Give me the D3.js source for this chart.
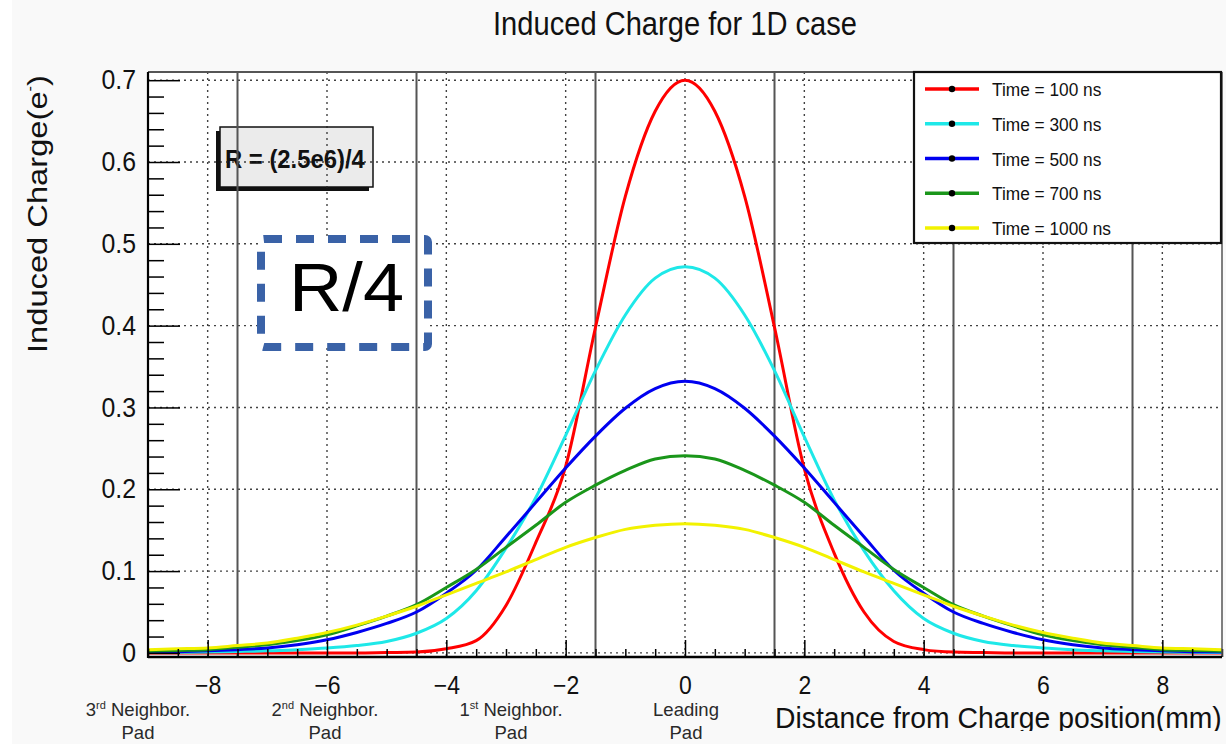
<!DOCTYPE html>
<html>
<head>
<meta charset="utf-8">
<script src="https://cdn.jsdelivr.net/npm/d3@7"></script>
<style>
  body { margin: 0; background: #fff; }
  text { font-family: "Liberation Sans", Arial, Helvetica, sans-serif; }
</style>
</head>
<body>
<svg id="chart" width="1226" height="744"></svg>
<script>
var xs = [-9, -8.5, -8, -7.5, -7, -6.5, -6, -5.5, -5, -4.5, -4, -3.5, -3, -2.5, -2, -1.5, -1, -0.5,
          0, 0.5, 1, 1.5, 2, 2.5, 3, 3.5, 4, 4.5, 5, 5.5, 6, 6.5, 7, 7.5, 8, 8.5, 9];

var t100  = [0, 0, 0, 0, 0, 0, 0, 0, 0.0005, 0.001, 0.005, 0.015, 0.058, 0.135, 0.228, 0.398, 0.558, 0.662,
             0.700, 0.662, 0.558, 0.398, 0.225, 0.122, 0.050, 0.014, 0.004, 0.001, 0.0005, 0, 0, 0, 0, 0, 0, 0, 0];
var t300  = [0.0005, 0.0008, 0.0012, 0.0018, 0.0025, 0.004, 0.006, 0.009, 0.014, 0.024, 0.042, 0.076, 0.128, 0.19, 0.266, 0.345, 0.413, 0.458,
             0.472, 0.458, 0.413, 0.345, 0.264, 0.187, 0.125, 0.076, 0.042, 0.024, 0.014, 0.009, 0.006, 0.004, 0.0025, 0.0018, 0.0012, 0.0008, 0.0005];
var t500  = [0.001, 0.0015, 0.0025, 0.004, 0.006, 0.010, 0.016, 0.025, 0.036, 0.050, 0.073, 0.101, 0.142, 0.184, 0.226, 0.265, 0.299, 0.323,
             0.332, 0.323, 0.299, 0.265, 0.226, 0.184, 0.142, 0.101, 0.073, 0.050, 0.036, 0.025, 0.016, 0.010, 0.006, 0.004, 0.0025, 0.0015, 0.001];
var t700  = [0.002, 0.003, 0.004, 0.007, 0.010, 0.015, 0.022, 0.033, 0.045, 0.059, 0.080, 0.102, 0.129, 0.156, 0.184, 0.205, 0.223, 0.237,
             0.241, 0.237, 0.223, 0.205, 0.184, 0.156, 0.129, 0.102, 0.080, 0.059, 0.045, 0.033, 0.022, 0.015, 0.010, 0.007, 0.004, 0.003, 0.002];
var t1000 = [0.004, 0.005, 0.006, 0.009, 0.012, 0.018, 0.025, 0.034, 0.045, 0.057, 0.071, 0.085, 0.099, 0.114, 0.129, 0.141, 0.151, 0.156,
             0.158, 0.156, 0.151, 0.141, 0.129, 0.114, 0.099, 0.085, 0.071, 0.057, 0.045, 0.034, 0.025, 0.018, 0.012, 0.009, 0.006, 0.005, 0.004];

var seriesNames  = ["Time = 100 ns", "Time = 300 ns", "Time = 500 ns", "Time = 700 ns", "Time = 1000 ns"];
var seriesValues = [t100, t300, t500, t700, t1000];
var seriesColors = ["#ff0000", "#1ee8e8", "#0000f0", "#1a961a", "#f2f200"];

var xMajor = [-8, -6, -4, -2, 0, 2, 4, 6, 8];
var xMinor = [-9, -8.5, -7.5, -7, -6.5, -5.5, -5, -4.5, -3.5, -3, -2.5, -1.5, -1, -0.5, 0.5, 1, 1.5, 2.5, 3, 3.5, 4.5, 5, 5.5, 6.5, 7, 7.5, 8.5, 9];
var yMajor = [0, 0.1, 0.2, 0.3, 0.4, 0.5, 0.6, 0.7];
var yMinor = [0.02, 0.04, 0.06, 0.08, 0.12, 0.14, 0.16, 0.18, 0.22, 0.24, 0.26, 0.28, 0.32, 0.34, 0.36, 0.38,
              0.42, 0.44, 0.46, 0.48, 0.52, 0.54, 0.56, 0.58, 0.62, 0.64, 0.66, 0.68];
var padEdges = [-7.5, -4.5, -1.5, 1.5, 4.5, 7.5];

var svg = d3.select("#chart");

// frame of the plot
var pLeft = 148, pRight = 1222, pTop = 72, pBottom = 657;
var x = d3.scaleLinear().domain([-9, 9]).range([pLeft, pRight]);
var y = d3.scaleLinear().domain([-0.005, 0.71]).range([pBottom, pTop]);

// fits a text to a measured width by squeezing it horizontally
function fitWidth(t, w) {
    var bw = t.node().getBBox().width;
    t.attr("transform", "scale(" + (w / bw) + ",1)");
}

// background
svg.append("rect").attr("x", 12).attr("y", 0).attr("width", 1214).attr("height", 744).attr("fill", "#f9f9f9");
svg.append("rect").attr("x", pLeft).attr("y", pTop).attr("width", pRight - pLeft).attr("height", pBottom - pTop).attr("fill", "#fff");

// R = (2.5e6)/4 box (sits under the grid)
svg.append("rect").attr("x", 216).attr("y", 131).attr("width", 153).attr("height", 60).attr("fill", "#111");
svg.append("rect").attr("x", 220).attr("y", 127).attr("width", 153).attr("height", 60)
    .attr("fill", "#ebebeb").attr("stroke", "#111").attr("stroke-width", 1.5);
var rg = svg.append("g").attr("transform", "translate(225,168)");
var rt = rg.append("text").attr("font-size", 25).attr("font-weight", "bold").attr("fill", "#111").text("R = (2.5e6)/4");
fitWidth(rt, 140);

// dotted grid
var grid = svg.append("g").attr("stroke", "#222").attr("stroke-width", 1.4)
    .attr("stroke-dasharray", "2,4").attr("opacity", 0.85);
grid.selectAll(".gx").data(xMajor).enter().append("line")
    .attr("x1", d => x(d)).attr("x2", d => x(d)).attr("y1", pTop).attr("y2", pBottom);
grid.selectAll(".gy").data(yMajor).enter().append("line")
    .attr("x1", pLeft).attr("x2", pRight).attr("y1", d => y(d)).attr("y2", d => y(d));

// R/4 annotation
svg.append("rect").attr("x", 261).attr("y", 239).attr("width", 167).attr("height", 108).attr("rx", 3)
    .attr("fill", "#fff").attr("stroke", "#3a62a7").attr("stroke-width", 8).attr("stroke-dasharray", "18,14");
var r4g = svg.append("g").attr("transform", "translate(289,311)");
var r4 = r4g.append("text").attr("font-size", 68).attr("fill", "#000").text("R/4");
fitWidth(r4, 115);

// pad boundaries
svg.append("g").selectAll("line").data(padEdges).enter().append("line")
    .attr("x1", d => x(d)).attr("x2", d => x(d)).attr("y1", pTop).attr("y2", pBottom)
    .attr("stroke", "#555").attr("stroke-width", 2);

// curves
var line = d3.line()
    .x((d, i) => x(xs[i]))
    .y(d => y(d))
    .curve(d3.curveMonotoneX);

svg.append("g").selectAll("path").data(seriesValues).enter().append("path")
    .attr("d", d => line(d))
    .attr("fill", "none")
    .attr("stroke", (d, i) => seriesColors[i])
    .attr("stroke-width", 3);

// axes: ticks point into the plot
function styleTicks(g, fs) {
    g.select(".domain").remove();
    g.selectAll(".tick line").attr("stroke", "#000").attr("stroke-width", 1.5);
    g.selectAll(".tick text").attr("font-size", fs).attr("fill", "#111")
        .attr("font-family", "Liberation Sans, Arial, sans-serif")
        .attr("transform", "scale(0.92,1)");
}

var xg = svg.append("g").attr("transform", "translate(0," + pBottom + ")")
    .call(d3.axisBottom(x).tickValues(xMajor).tickSizeInner(-17).tickSizeOuter(0).tickPadding(19).tickFormat(d3.format("d")));
styleTicks(xg, 25);
var xg2 = svg.append("g").attr("transform", "translate(0," + pBottom + ")")
    .call(d3.axisBottom(x).tickValues(xMinor).tickSizeInner(-8).tickSizeOuter(0).tickFormat(""));
styleTicks(xg2, 25);

var yg = svg.append("g").attr("transform", "translate(" + pLeft + ",0)")
    .call(d3.axisLeft(y).tickValues(yMajor).tickSizeInner(-32).tickSizeOuter(0).tickPadding(13).tickFormat(d3.format("~g")));
styleTicks(yg, 27);
var yg2 = svg.append("g").attr("transform", "translate(" + pLeft + ",0)")
    .call(d3.axisLeft(y).tickValues(yMinor).tickSizeInner(-16).tickSizeOuter(0).tickFormat(""));
styleTicks(yg2, 27);

// frame lines
svg.append("line").attr("x1", pLeft).attr("x2", pRight).attr("y1", pTop).attr("y2", pTop).attr("stroke", "#555").attr("stroke-width", 2);
svg.append("line").attr("x1", pRight).attr("x2", pRight).attr("y1", pTop).attr("y2", pBottom).attr("stroke", "#555").attr("stroke-width", 1.5);
svg.append("line").attr("x1", pLeft).attr("x2", pLeft).attr("y1", pTop).attr("y2", pBottom + 1).attr("stroke", "#000").attr("stroke-width", 2.2);
svg.append("line").attr("x1", pLeft).attr("x2", pRight).attr("y1", pBottom).attr("y2", pBottom).attr("stroke", "#000").attr("stroke-width", 2.5);

// legend
svg.append("rect").attr("x", 914).attr("y", 72).attr("width", 307).attr("height", 171)
    .attr("fill", "#fff").attr("stroke", "#111").attr("stroke-width", 2.2);
var leg = svg.append("g").selectAll("g").data(seriesNames).enter().append("g")
    .attr("transform", (d, i) => "translate(0," + (89 + i * 34.75) + ")");
leg.append("line").attr("x1", 925).attr("x2", 979).attr("y1", 0).attr("y2", 0)
    .attr("stroke", (d, i) => seriesColors[i]).attr("stroke-width", 3.5);
leg.append("circle").attr("cx", 952).attr("cy", 0).attr("r", 3.2).attr("fill", "#000");
leg.append("g").attr("transform", "translate(992,7)")
    .append("text").attr("font-size", 19).attr("fill", "#111").attr("transform", "scale(0.91,1)")
    .text(d => d);

// title
var tg = svg.append("g").attr("transform", "translate(675,35)");
var title = tg.append("text").attr("font-size", 33).attr("fill", "#111").attr("text-anchor", "middle")
    .text("Induced Charge for 1D case");
fitWidth(title, 364);

// y axis title
var ytg = svg.append("g").attr("transform", "translate(47,353) rotate(-90)");
var ytitle = ytg.append("text").attr("font-size", 28).attr("fill", "#111");
ytitle.append("tspan").text("Induced Charge(e");
ytitle.append("tspan").attr("font-size", 14).attr("dy", -12).text("-");
ytitle.append("tspan").attr("dy", 12).text(")");
fitWidth(ytitle, 278);

// x axis title, its bottom is cut off in the picture
svg.append("clipPath").attr("id", "xtclip").append("rect").attr("x", 0).attr("y", 0).attr("width", 1226).attr("height", 731);
var xtg = svg.append("g").attr("clip-path", "url(#xtclip)")
    .append("g").attr("transform", "translate(775,728)");
var xtitle = xtg.append("text").attr("font-size", 30).attr("fill", "#111").text("Distance from Charge position(mm)");
fitWidth(xtitle, 447);

// pad names under the axis
var padLabels = [
    {cx: 138, num: "3", sup: "rd", rest: " Neighbor."},
    {cx: 325, num: "2", sup: "nd", rest: " Neighbor."},
    {cx: 511, num: "1", sup: "st", rest: " Neighbor."},
    {cx: 686, num: "", sup: "", rest: "Leading"}
];
padLabels.forEach(function(p) {
    var t = svg.append("text").attr("x", p.cx).attr("y", 716).attr("text-anchor", "middle")
        .attr("font-size", 18.5).attr("fill", "#2a2a2a");
    if (p.num) {
        t.append("tspan").text(p.num);
        t.append("tspan").attr("font-size", 11).attr("dy", -7).text(p.sup);
        t.append("tspan").attr("dy", 7).text(p.rest);
    } else {
        t.text(p.rest);
    }
    svg.append("text").attr("x", p.cx).attr("y", 739).attr("text-anchor", "middle")
        .attr("font-size", 18.5).attr("fill", "#2a2a2a").text("Pad");
});
</script>
</body>
</html>
